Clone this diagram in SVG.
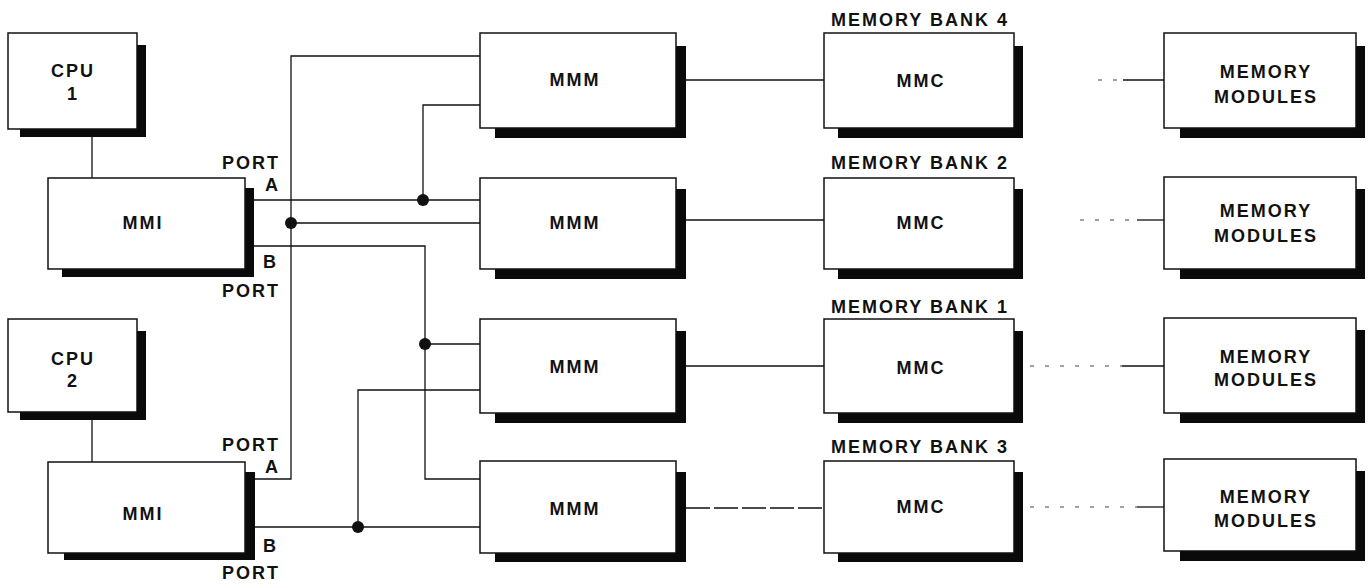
<svg xmlns="http://www.w3.org/2000/svg" width="1369" height="584" viewBox="0 0 1369 584">
<style>
.box{fill:#fff;stroke:#111;stroke-width:1.5}
.sh{fill:#0a0a0a}
.t{font-family:"Liberation Sans",Arial,sans-serif;font-weight:bold;font-size:18px;fill:#111;letter-spacing:2px}
.m{text-anchor:middle}
.e{text-anchor:end}
.ln{fill:none;stroke:#111;stroke-width:1.3}
.dl{fill:none;stroke:#444;stroke-width:1.2;stroke-dasharray:4 11}
.dot{fill:#111}
</style>
<rect width="1369" height="584" fill="#fff"/>
<g id="connectors">
<path class="ln" d="M92 129V178"/>
<path class="ln" d="M92 412V462"/>
<path class="ln" d="M254 200H480"/>
<path class="ln" d="M423 200V105H480"/>
<path class="ln" d="M254 246H425V479H480"/>
<path class="ln" d="M425 344H480"/>
<path class="ln" d="M254 479H291V56H480"/>
<path class="ln" d="M291 223H480"/>
<path class="ln" d="M254 527H480"/>
<path class="ln" d="M358 527V390H480"/>
<circle class="dot" cx="423" cy="200" r="6"/>
<circle class="dot" cx="291" cy="223" r="6"/>
<circle class="dot" cx="425" cy="344" r="6"/>
<circle class="dot" cx="358" cy="527" r="6"/>
<path class="ln" d="M686 80H824"/>
<path class="ln" d="M686 220H824"/>
<path class="ln" d="M686 366H824"/>
<path class="ln" d="M686 508H824" stroke-dasharray="24 4"/>
<path class="dl" d="M1098 80H1123"/>
<path class="ln" d="M1123 80H1164"/>
<path class="dl" d="M1080 220H1137"/>
<path class="ln" d="M1137 220H1164"/>
<path class="dl" d="M1030 366H1122"/>
<path class="ln" d="M1122 366H1164"/>
<path class="dl" d="M1030 507H1137"/>
<path class="ln" d="M1137 507H1164"/>
</g>
<g id="cpu1">
<rect class="sh" x="20" y="45" width="126" height="92"/>
<rect class="box" x="8" y="33" width="129" height="96"/>
<text class="t m" x="73" y="77">CPU</text>
<text class="t m" x="73" y="100">1</text>
</g>
<g id="mmi1">
<rect class="sh" x="62" y="188" width="192" height="89"/>
<rect class="box" x="48" y="178" width="197" height="91"/>
<text class="t m" x="143" y="229">MMI</text>
<text class="t e" x="280" y="169">PORT</text>
<text class="t e" x="280" y="191">A</text>
<text class="t e" x="278" y="268">B</text>
<text class="t e" x="280" y="297">PORT</text>
</g>
<g id="cpu2">
<rect class="sh" x="20" y="331" width="126" height="89"/>
<rect class="box" x="8" y="319" width="129" height="93"/>
<text class="t m" x="73" y="365">CPU</text>
<text class="t m" x="73" y="387">2</text>
</g>
<g id="mmi2">
<rect class="sh" x="64" y="472" width="191" height="88"/>
<rect class="box" x="48" y="462" width="197" height="91"/>
<text class="t m" x="143" y="520">MMI</text>
<text class="t e" x="280" y="451">PORT</text>
<text class="t e" x="280" y="473">A</text>
<text class="t e" x="278" y="552">B</text>
<text class="t e" x="280" y="579">PORT</text>
</g>
<g id="mmm1">
<rect class="sh" x="495" y="46" width="191" height="92"/>
<rect class="box" x="480" y="33" width="196" height="95"/>
<text class="t m" x="575" y="86">MMM</text>
</g>
<g id="mmm2">
<rect class="sh" x="495" y="189" width="191" height="90"/>
<rect class="box" x="480" y="178" width="196" height="91"/>
<text class="t m" x="575" y="229">MMM</text>
</g>
<g id="mmm3">
<rect class="sh" x="495" y="331" width="191" height="92"/>
<rect class="box" x="480" y="319" width="196" height="94"/>
<text class="t m" x="575" y="373">MMM</text>
</g>
<g id="mmm4">
<rect class="sh" x="495" y="472" width="191" height="90"/>
<rect class="box" x="480" y="461" width="196" height="92"/>
<text class="t m" x="575" y="515">MMM</text>
</g>
<g id="mmc1">
<text class="t m" x="920" y="26">MEMORY BANK 4</text>
<rect class="sh" x="838" y="46" width="185" height="92"/>
<rect class="box" x="824" y="33" width="190" height="95"/>
<text class="t m" x="921" y="87">MMC</text>
</g>
<g id="mmc2">
<text class="t m" x="920" y="169">MEMORY BANK 2</text>
<rect class="sh" x="838" y="189" width="185" height="90"/>
<rect class="box" x="824" y="178" width="190" height="91"/>
<text class="t m" x="921" y="229">MMC</text>
</g>
<g id="mmc3">
<text class="t m" x="920" y="313">MEMORY BANK 1</text>
<rect class="sh" x="838" y="331" width="185" height="92"/>
<rect class="box" x="824" y="319" width="190" height="94"/>
<text class="t m" x="921" y="374">MMC</text>
</g>
<g id="mmc4">
<text class="t m" x="920" y="453">MEMORY BANK 3</text>
<rect class="sh" x="838" y="472" width="185" height="90"/>
<rect class="box" x="824" y="461" width="190" height="92"/>
<text class="t m" x="921" y="513">MMC</text>
</g>
<g id="mm1">
<rect class="sh" x="1180" y="46" width="185" height="92"/>
<rect class="box" x="1164" y="33" width="192" height="95"/>
<text class="t m" x="1266" y="78">MEMORY</text>
<text class="t m" x="1266" y="103">MODULES</text>
</g>
<g id="mm2">
<rect class="sh" x="1180" y="189" width="185" height="90"/>
<rect class="box" x="1164" y="177" width="192" height="92"/>
<text class="t m" x="1266" y="217">MEMORY</text>
<text class="t m" x="1266" y="242">MODULES</text>
</g>
<g id="mm3">
<rect class="sh" x="1180" y="330" width="185" height="93"/>
<rect class="box" x="1164" y="318" width="192" height="95"/>
<text class="t m" x="1266" y="363">MEMORY</text>
<text class="t m" x="1266" y="386">MODULES</text>
</g>
<g id="mm4">
<rect class="sh" x="1180" y="471" width="185" height="90"/>
<rect class="box" x="1164" y="459" width="192" height="92"/>
<text class="t m" x="1266" y="503">MEMORY</text>
<text class="t m" x="1266" y="527">MODULES</text>
</g>
</svg>
